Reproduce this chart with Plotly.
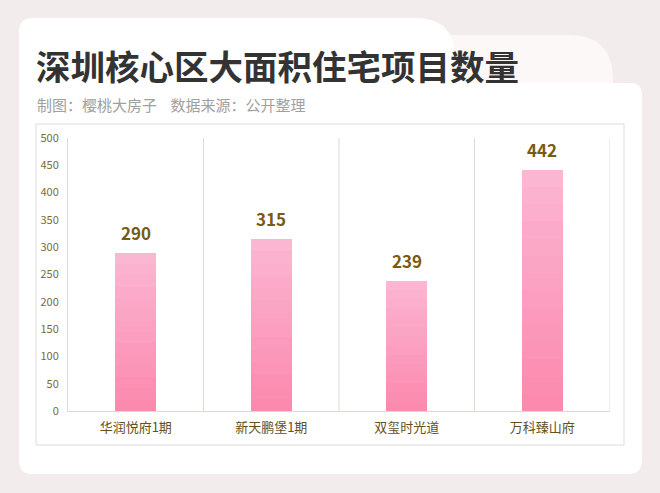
import plotly.graph_objects as go

# 数据
projects = ["华润悦府1期", "新天鹏堡1期", "双玺时光道", "万科臻山府"]
counts = [290, 315, 239, 442]
y_ticks = [0, 50, 100, 150, 200, 250, 300, 350, 400, 450, 500]

title_text = "深圳核心区大面积住宅项目数量"
sub_text = "制图：樱桃大房子&nbsp;&nbsp;&nbsp;&nbsp;数据来源：公开整理"

W, H = 660, 493
L, R, T, B = 68, 610, 138, 411  # plot area in pixels
FONT = "Noto Sans CJK SC"
BG = "#f3ecec"


def px(x):
    return (x - L) / (R - L)


def py(y):
    return (B - y) / (B - T)


def rrect(x0, y0, x1, y1, r_tl=0, r_tr=0, r_br=0, r_bl=0):
    # rounded rect path in paper coords, given pixel corners
    p = "M {},{} ".format(px(x0 + r_tl), py(y0))
    p += "L {},{} ".format(px(x1 - r_tr), py(y0))
    p += "Q {},{} {},{} ".format(px(x1), py(y0), px(x1), py(y0 + r_tr))
    p += "L {},{} ".format(px(x1), py(y1 - r_br))
    p += "Q {},{} {},{} ".format(px(x1), py(y1), px(x1 - r_br), py(y1))
    p += "L {},{} ".format(px(x0 + r_bl), py(y1))
    p += "Q {},{} {},{} ".format(px(x0), py(y1), px(x0), py(y1 - r_bl))
    p += "L {},{} ".format(px(x0), py(y0 + r_tl))
    p += "Q {},{} {},{} Z".format(px(x0), py(y0), px(x0 + r_tl), py(y0))
    return p


fig = go.Figure()

# 渐变柱子: 叠加几层, 上浅下深
top_c = (251, 182, 210)
bot_c = (252, 138, 175)
n_layers = 14
for k in range(n_layers):
    f = 1 - k / n_layers
    t = k / (n_layers - 1)
    c = tuple(int(top_c[i] + (bot_c[i] - top_c[i]) * t) for i in range(3))
    fig.add_trace(go.Bar(
        x=projects, y=[v * f for v in counts],
        width=0.3,
        marker=dict(color="rgb({},{},{})".format(*c), line_width=0),
        hoverinfo="skip" if k else "x+y",
        showlegend=False,
    ))

for p, v in zip(projects, counts):
    fig.add_annotation(x=p, y=v, text="<b>{}</b>".format(v), showarrow=False,
                       yanchor="bottom", yshift=6,
                       font=dict(size=17, color="#7a5a12", family=FONT))

shapes = [
    # 背景卡片
    dict(type="path", path=rrect(19, 35, 613, 474, 14, 45, 14, 14),
         fillcolor="#fcf8f7", line_width=0),
    dict(type="path", path=rrect(19, 83, 642, 474, 14, 12, 14, 14),
         fillcolor="#ffffff", line_width=0),
    dict(type="path", path=rrect(19, 18, 455, 474, 14, 40, 14, 14),
         fillcolor="#ffffff", line_width=0),
    # 图表外框
    dict(type="rect", xref="paper", yref="paper",
         x0=px(36), x1=px(624), y0=py(445), y1=py(124),
         fillcolor="#ffffff", line=dict(color="#dcdcdc", width=1)),
]
for s in shapes:
    s.setdefault("xref", "paper")
    s.setdefault("yref", "paper")
    s["layer"] = "below"
    fig.add_shape(**s)

# 分类之间的竖线
for i in range(len(projects)):
    fig.add_shape(type="line", xref="x", yref="y",
                  x0=i + 0.5, x1=i + 0.5, y0=0, y1=500,
                  line=dict(color="#dedad2", width=1), layer="below")

fig.add_annotation(x=px(34), y=py(65), xref="paper", yref="paper",
                   text="<b>" + title_text + "</b>", showarrow=False,
                   xanchor="left", yanchor="middle",
                   font=dict(size=34.5, color="#333333", family=FONT))
fig.add_annotation(x=px(35), y=py(104), xref="paper", yref="paper",
                   text=sub_text, showarrow=False,
                   xanchor="left", yanchor="middle",
                   font=dict(size=15, color="#a0a0a0", family=FONT))

fig.update_layout(
    width=W, height=H,
    margin=dict(l=L, r=W - R, t=T, b=H - B),
    paper_bgcolor=BG,
    plot_bgcolor="rgba(0,0,0,0)",
    barmode="overlay",
    bargap=0,
    font=dict(family=FONT),
    showlegend=False,
)
fig.update_xaxes(range=[-0.5, len(projects) - 0.5], showgrid=False,
                 showline=True, linecolor="#dedad2", linewidth=1,
                 ticks="", tickfont=dict(size=13, color="#63501c", family=FONT),
                 ticklabelstandoff=4, fixedrange=True)
fig.update_yaxes(range=[0, 500], tickvals=y_ticks, showgrid=False,
                 showline=True, linecolor="#dedad2", linewidth=1,
                 zeroline=False, ticks="",
                 tickfont=dict(size=11, color="#7d6a3a", family=FONT),
                 ticklabelstandoff=6, fixedrange=True)

# 去掉页面默认边距
fig.write_html("out.html", config={"displayModeBar": False},
               post_script="document.body.style.margin='0';"
                           "document.body.style.background='" + BG + "';")
